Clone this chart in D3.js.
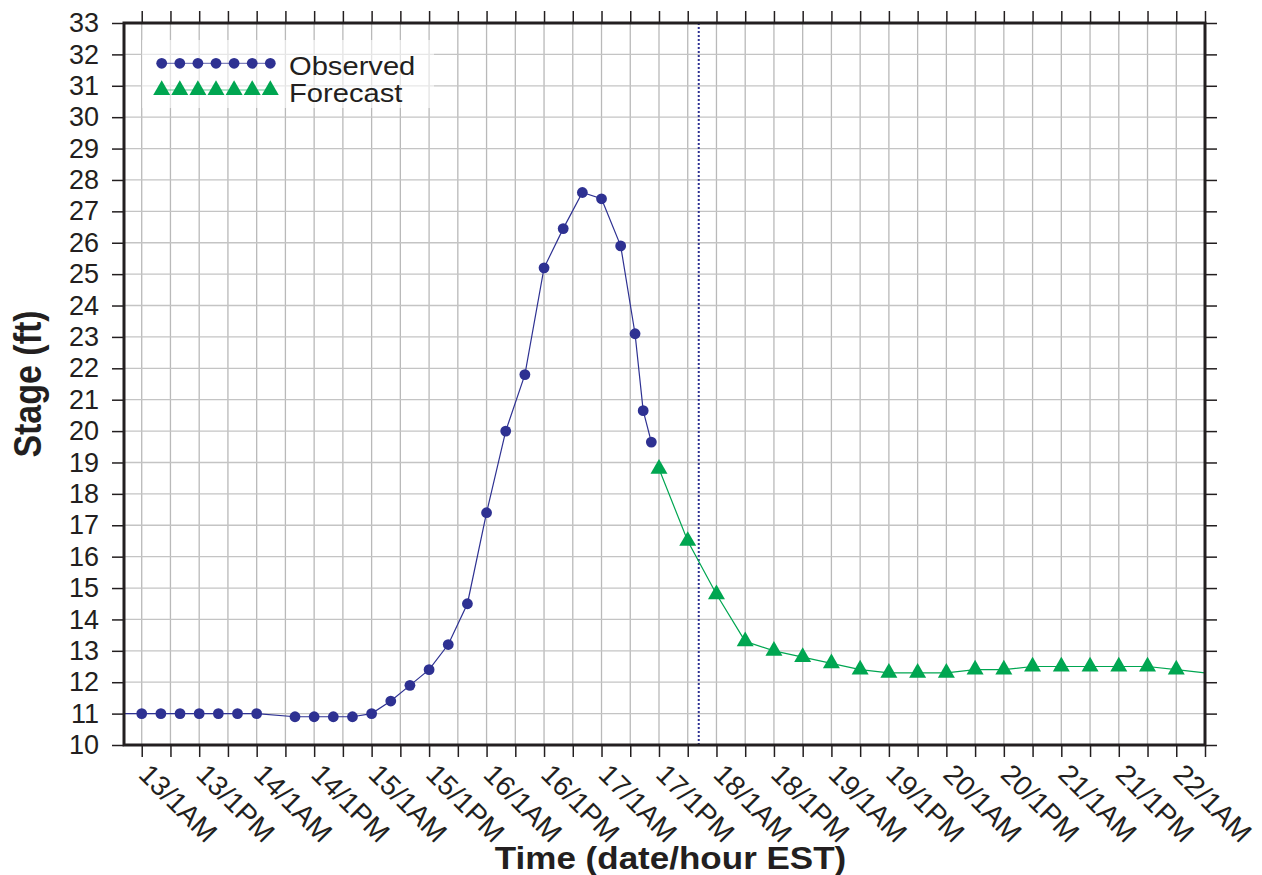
<html>
<head>
<meta charset="utf-8" />
<title>Stage hydrograph</title>
<script src="https://d3js.org/d3.v7.min.js"></script>
<style>
    body { margin: 0px; background: #fff; }
    text { font-family: "Liberation Sans", Arial, Helvetica, sans-serif; fill: #231f20; }
</style>
</head>
<body>
<script type="text/javascript">
// hours are counted from 13/1AM EST
var obsHours = [-4, 0, 4, 8, 12, 16, 20, 24, 32, 36, 40, 44, 48, 52, 56, 60, 64, 68, 72, 76, 80, 84, 88, 92, 96, 100, 103, 104.7, 106.4];
var obsStage = [11.0, 11.0, 11.0, 11.0, 11.0, 11.0, 11.0, 11.0, 10.9, 10.9, 10.9, 10.9, 11.0, 11.4, 11.9, 12.4, 13.2, 14.5, 17.4, 20.0, 21.8, 25.2, 26.45, 27.6, 27.4, 25.9, 23.1, 20.65, 19.65];

var fcstHours = [108, 114, 120, 126, 132, 138, 144, 150, 156, 162, 168, 174, 180, 186, 192, 198, 204, 210, 216, 222];
var fcstStage = [18.8, 16.5, 14.8, 13.3, 13.0, 12.8, 12.6, 12.4, 12.3, 12.3, 12.3, 12.4, 12.4, 12.5, 12.5, 12.5, 12.5, 12.5, 12.4, 12.3];

var nowHour = 116.3;

var tickHours = [0, 6, 12, 18, 24, 30, 36, 42, 48, 54, 60, 66, 72, 78, 84, 90, 96, 102, 108, 114, 120, 126, 132, 138, 144, 150, 156, 162, 168, 174, 180, 186, 192, 198, 204, 210, 216, 222];
var labelHours = [0, 12, 24, 36, 48, 60, 72, 84, 96, 108, 120, 132, 144, 156, 168, 180, 192, 204, 216];
var tickLabels = ["13/1AM", "13/1PM", "14/1AM", "14/1PM", "15/1AM", "15/1PM", "16/1AM", "16/1PM", "17/1AM", "17/1PM",
                  "18/1AM", "18/1PM", "19/1AM", "19/1PM", "20/1AM", "20/1PM", "21/1AM", "21/1PM", "22/1AM"];
var stageTicks = d3.range(10, 34);

var seriesNames = ["Observed", "Forecast"];
var obsColor = "#2e3192";
var fcstColor = "#00a651";

var width = 1262, height = 875;
var margin = {top: 23, right: 57, bottom: 130, left: 124};
var x0 = margin.left, x1 = width - margin.right;
var y0 = height - margin.bottom, y1 = margin.top;

var svg = d3.select("body").append("svg")
    .attr("width", width)
    .attr("height", height);

var x = d3.scaleLinear().domain([-3.7, 222]).range([x0, x1]);
var y = d3.scaleLinear().domain([10, 33]).range([y0, y1]);

svg.append("defs").append("clipPath").attr("id", "plotClip")
    .append("rect").attr("x", x0).attr("y", y1).attr("width", x1 - x0).attr("height", y0 - y1);

// grid
var grid = svg.append("g");
grid.selectAll(".vgrid").data(tickHours).enter().append("line")
    .attr("x1", d => x(d)).attr("x2", d => x(d))
    .attr("y1", y1).attr("y2", y0)
    .attr("stroke", "#b9b9b9").attr("stroke-width", 1.3);
grid.selectAll(".hgrid").data(stageTicks).enter().append("line")
    .attr("x1", x0).attr("x2", x1)
    .attr("y1", d => y(d)).attr("y2", d => y(d))
    .attr("stroke", "#c4c4c4").attr("stroke-width", 1.3);

// current time line
svg.append("line")
    .attr("x1", x(nowHour)).attr("x2", x(nowHour))
    .attr("y1", y1).attr("y2", y0)
    .attr("stroke", obsColor).attr("stroke-width", 2)
    .attr("stroke-dasharray", "2,2");

var obsData = obsHours.map((h, i) => ({h: h, v: obsStage[i]}));
var fcstData = fcstHours.map((h, i) => ({h: h, v: fcstStage[i]}));
var inside = d => d.h > x.domain()[0] && d.h < x.domain()[1];

var line = d3.line().x(d => x(d.h)).y(d => y(d.v));
var plot = svg.append("g").attr("clip-path", "url(#plotClip)");

plot.append("path").datum(obsData)
    .attr("d", line).attr("fill", "none")
    .attr("stroke", obsColor).attr("stroke-width", 1.2);
plot.append("path").datum(fcstData)
    .attr("d", line).attr("fill", "none")
    .attr("stroke", fcstColor).attr("stroke-width", 1.2);

plot.selectAll(".obs").data(obsData.filter(inside)).enter().append("circle")
    .attr("cx", d => x(d.h)).attr("cy", d => y(d.v)).attr("r", 5.4)
    .attr("fill", obsColor);

var tri = d3.symbol().type(d3.symbolTriangle).size(125);
plot.selectAll(".fcst").data(fcstData.filter(inside)).enter().append("path")
    .attr("d", tri)
    .attr("transform", d => "translate(" + x(d.h) + "," + y(d.v) + ")")
    .attr("fill", fcstColor);

// axes
function styleAxis(g) {
    g.select(".domain").remove();
    g.selectAll(".tick line").attr("stroke", "#231f20").attr("stroke-width", 1.5);
    g.selectAll(".tick text").attr("font-family", "Liberation Sans, Arial, sans-serif")
        .attr("font-size", 27).attr("fill", "#231f20");
}

svg.append("g").attr("transform", "translate(" + x0 + ",0)")
    .call(d3.axisLeft(y).tickValues(stageTicks).tickSize(12).tickPadding(13).tickFormat(d3.format("d")))
    .call(styleAxis);

svg.append("g").attr("transform", "translate(" + x1 + ",0)")
    .call(d3.axisRight(y).tickValues(stageTicks).tickSize(12).tickFormat(""))
    .call(styleAxis);

svg.append("g").attr("transform", "translate(0," + y1 + ")")
    .call(d3.axisTop(x).tickValues(tickHours).tickSize(12).tickFormat(""))
    .call(styleAxis);

var bottom = svg.append("g").attr("transform", "translate(0," + y0 + ")")
    .call(d3.axisBottom(x).tickValues(tickHours).tickSize(12)
        .tickFormat(d => { var i = labelHours.indexOf(d); return i < 0 ? "" : tickLabels[i]; }))
    .call(styleAxis);
bottom.selectAll(".tick text")
    .attr("x", 0).attr("y", 0).attr("dy", 0)
    .attr("font-size", 28)
    .attr("text-anchor", "start")
    .attr("transform", "translate(-5,31) rotate(45)");

// frame
svg.append("rect")
    .attr("x", x0).attr("y", y1).attr("width", x1 - x0).attr("height", y0 - y1)
    .attr("fill", "none").attr("stroke", "#231f20").attr("stroke-width", 3);

// titles
svg.append("text")
    .attr("transform", "translate(" + ((x0 + x1) / 2 + 6) + ",869) scale(1.13,1)")
    .attr("text-anchor", "middle")
    .attr("font-size", 31).attr("font-weight", "bold")
    .text("Time (date/hour EST)");

svg.append("text")
    .attr("transform", "translate(41," + ((y0 + y1) / 2) + ") scale(1.14,1) rotate(-90)")
    .attr("text-anchor", "middle")
    .attr("font-size", 34).attr("font-weight", "bold")
    .text("Stage (ft)");

// legend
var legend = svg.append("g");
legend.append("rect")
    .attr("x", 142).attr("y", 40).attr("width", 292).attr("height", 68)
    .attr("fill", "#fff").attr("opacity", 0.6);
var legendX = d3.range(7).map(i => 161.7 + i * 18.1);
var legendRows = [{name: seriesNames[0], color: obsColor, y: 63.3, ty: 74.5},
                  {name: seriesNames[1], color: fcstColor, y: 90, ty: 101.5}];
legendRows.forEach(function(r, k) {
    legend.append("line")
        .attr("x1", legendX[0]).attr("x2", legendX[6])
        .attr("y1", r.y).attr("y2", r.y)
        .attr("stroke", r.color).attr("stroke-width", 1.2).attr("opacity", 0.6);
    if (k == 0) {
        legend.selectAll(".lc").data(legendX).enter().append("circle")
            .attr("cx", d => d).attr("cy", r.y).attr("r", 5.4).attr("fill", r.color);
    } else {
        legend.selectAll(".lt").data(legendX).enter().append("path")
            .attr("d", tri)
            .attr("transform", d => "translate(" + d + "," + r.y + ")")
            .attr("fill", r.color);
    }
    legend.append("text")
        .attr("transform", "translate(289," + r.ty + ") scale(1.1,1)")
        .attr("font-size", 26.5)
        .text(r.name);
});
</script>
</body>
</html>
